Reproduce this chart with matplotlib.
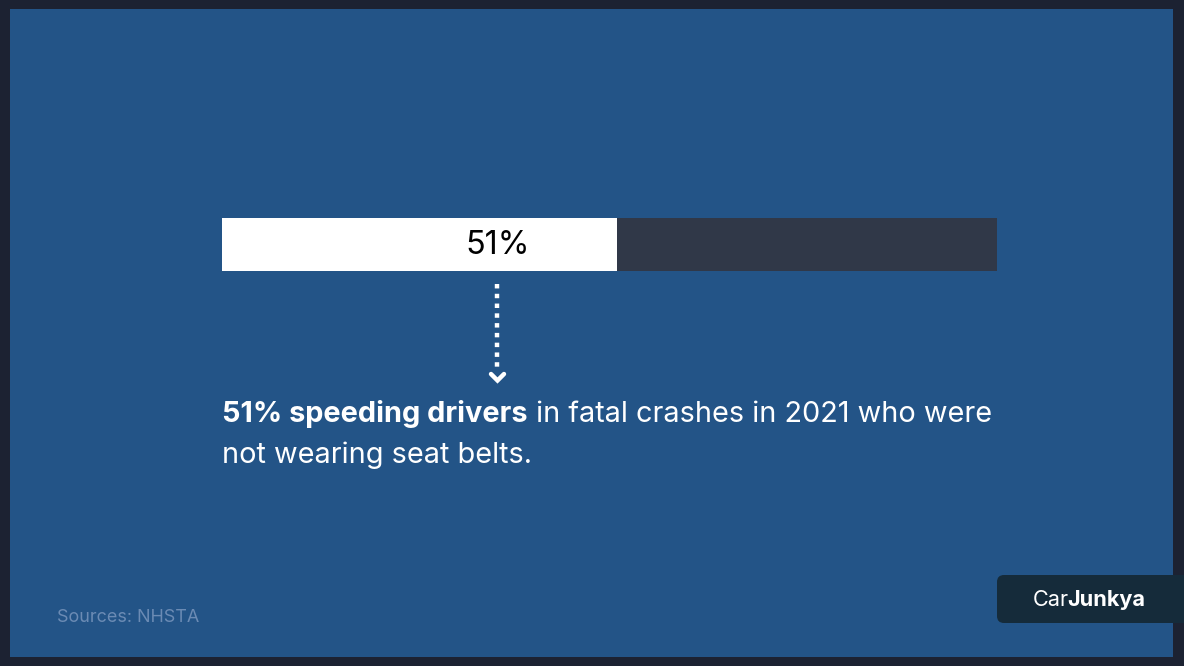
import matplotlib
matplotlib.use("Agg")
import matplotlib.pyplot as plt
from matplotlib.patches import Rectangle, FancyBboxPatch

value = [51]
rest = [100 - value[0]]
label = "51%"
bold_text = "51% speeding drivers"
regular_line1 = " in fatal crashes in 2021 who were"
regular_line2 = "not wearing seat belts."
source = "Sources: NHSTA"
brand_a, brand_b = "Car", "Junkya"

W, H = 1184, 666
fig = plt.figure(figsize=(W / 100, H / 100), dpi=100)
fig.patch.set_facecolor("#1c2232")

bg = fig.add_axes([0, 0, 1, 1])
bg.set_xlim(0, W)
bg.set_ylim(H, 0)
bg.axis("off")
bg.add_patch(Rectangle((10, 9), 1163, 648, facecolor="#235487", edgecolor="none"))

# bar
x0, x1, y0, y1 = 222, 997, 218, 271
bax = fig.add_axes([x0 / W, 1 - y1 / H, (x1 - x0) / W, (y1 - y0) / H])
bax.set_xlim(0, 100)
bax.set_ylim(-0.5, 0.5)
bax.axis("off")
bax.barh(0, value, height=1.0, color="white", edgecolor="none")
bax.barh(0, rest, left=value, height=1.0, color="#303848", edgecolor="none")
bax.text(value[0] * 0.697, -0.02, label, ha="center", va="center", fontsize=23.3,
         family="Inter", color="black")

# dotted arrow
bg.plot([497, 497], [284, 371], color="white", lw=3.2, linestyle=(0, (1.0, 1.2)),
        solid_capstyle="butt", dash_capstyle="butt")
bg.plot([491, 497.5, 504], [374, 380.5, 374], color="white", lw=3.2,
        solid_capstyle="round", solid_joinstyle="miter")

# description text
fs = 20.8
fig.canvas.draw()
r = fig.canvas.get_renderer()
inv = bg.transData.inverted()
t1 = bg.text(222, 422, bold_text, fontsize=fs, family="Inter", weight="bold",
             color="white", ha="left", va="baseline")
bb = t1.get_window_extent(renderer=r)
xe = inv.transform((bb.x1, 0))[0]
bg.text(xe, 422, regular_line1, fontsize=fs, family="Inter", color="white",
        ha="left", va="baseline")
bg.text(222, 463, regular_line2, fontsize=fs, family="Inter", color="white",
        ha="left", va="baseline")

# source
bg.text(57, 617, source, fontsize=12.95, family="Inter", color="#6b8bb4",
        ha="left", va="center")

# brand box
bg.add_patch(FancyBboxPatch((997, 575), 200, 48,
                            boxstyle="round,pad=0,rounding_size=7",
                            facecolor="#152b3a", edgecolor="none"))
ta = bg.text(1033, 600, brand_a, fontsize=15.6, family="Inter", color="white",
             ha="left", va="center")
bb2 = ta.get_window_extent(renderer=r)
xe2 = inv.transform((bb2.x1, 0))[0] - 2
bg.text(xe2, 600, brand_b, fontsize=15.6, family="Inter", weight="bold",
        color="white", ha="left", va="center")

fig.savefig("out.png", dpi=100, facecolor=fig.get_facecolor())
